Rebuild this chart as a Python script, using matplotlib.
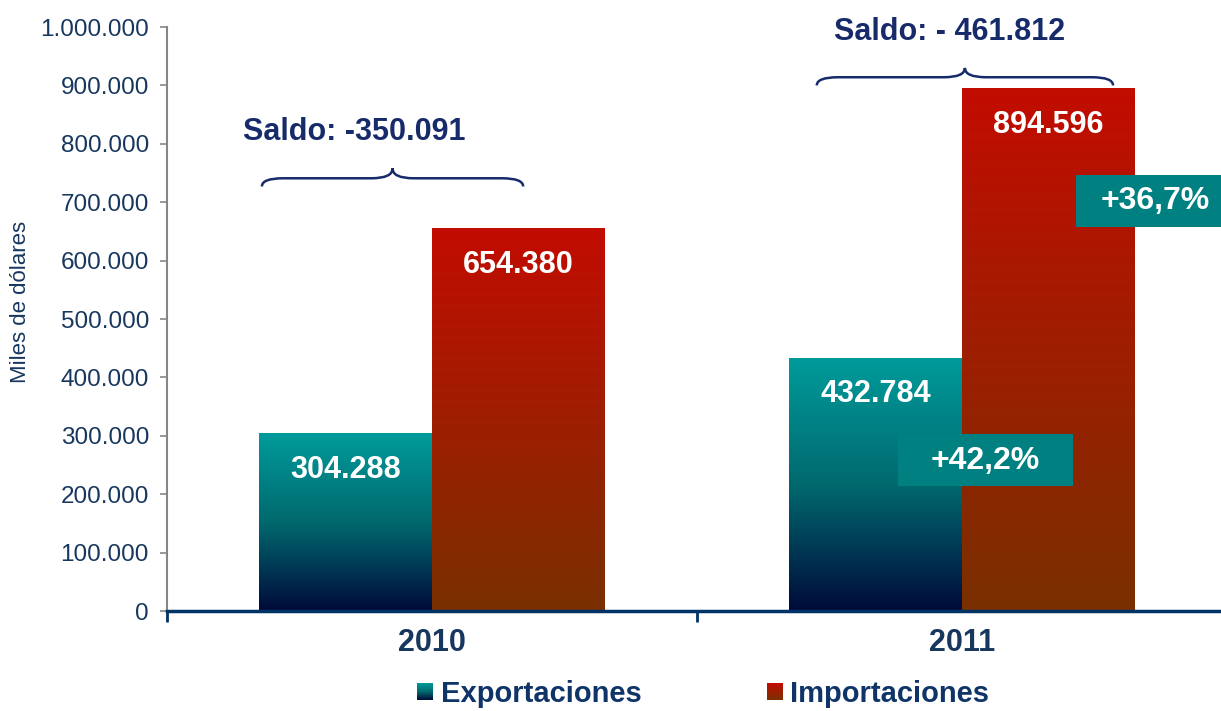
import numpy as np
import matplotlib
matplotlib.use('Agg')
import matplotlib.pyplot as plt
from matplotlib.colors import LinearSegmentedColormap
from matplotlib.patches import Rectangle, Patch, PathPatch
from matplotlib.path import Path
from matplotlib.legend_handler import HandlerBase
from matplotlib.ticker import FuncFormatter, FixedLocator

plt.rcParams['font.family'] = ['Liberation Sans', 'DejaVu Sans']

# data (miles de dolares)
years = ['2010', '2011']
exportaciones = [304288, 432784]
importaciones = [654380, 894596]
saldo_labels = ['Saldo: -350.091', 'Saldo: - 461.812']
growth_exp = '+42,2%'
growth_imp = '+36,7%'

navy = '#17375E'
navy2 = '#172B6B'
teal_box = '#008080'

exp_cmap = LinearSegmentedColormap.from_list(
    'exp', [(0.0, (0/255, 10/255, 58/255)), (0.5, (0/255, 105/255, 110/255)), (1.0, (0/255, 155/255, 155/255))])
imp_cmap = LinearSegmentedColormap.from_list(
    'imp', [(0.0, (122/255, 48/255, 0)), (1.0, (194/255, 12/255, 0))])


def fmt(v):
    return f'{int(v):,}'.replace(',', '.')


fig = plt.figure(figsize=(12.21, 7.11), dpi=100)
ax = fig.add_axes([0.1368, 0.1406, 0.8681, 0.8214])

x = np.arange(len(years)) + 0.5
w = 0.326
b1 = ax.bar(x - w / 2, exportaciones, w, color='none', edgecolor='none')
b2 = ax.bar(x + w / 2, importaciones, w, color='none', edgecolor='none')

grad = np.linspace(0, 1, 256).reshape(-1, 1)
for bars, cm in [(b1, exp_cmap), (b2, imp_cmap)]:
    for p in bars:
        ax.imshow(grad, extent=(p.get_x(), p.get_x() + p.get_width(), 0, p.get_height()),
                  origin='lower', cmap=cm, aspect='auto', zorder=2, interpolation='bilinear')

# value labels
for bars in (b1, b2):
    for p in bars:
        ax.text(p.get_x() + p.get_width() / 2, p.get_height() - 62000, fmt(p.get_height()),
                ha='center', va='center', color='white', fontsize=22, fontweight='bold', zorder=5)

ax.set_xlim(0, 2)
ax.set_ylim(0, 1000000)


# braces + saldo
def brace(x0, x1, yb, ym, yt, r=0.04):
    xm = (x0 + x1) / 2
    verts = [(x0, yb), (x0, ym), (x0 + r, ym), (xm - r, ym), (xm, ym), (xm, yt),
             (xm, ym), (xm + r, ym), (x1 - r, ym), (x1, ym), (x1, yb)]
    codes = [Path.MOVETO, Path.CURVE3, Path.CURVE3, Path.LINETO, Path.CURVE3, Path.CURVE3,
             Path.CURVE3, Path.CURVE3, Path.LINETO, Path.CURVE3, Path.CURVE3]
    ax.add_patch(PathPatch(Path(verts, codes), fill=False, edgecolor=navy2, lw=1.8,
                           zorder=4, clip_on=False))


brace(0.179, 0.672, 727000, 741000, 758000)
brace(1.226, 1.785, 900000, 914000, 930000)
ax.text(0.353, 821000, saldo_labels[0], ha='center', va='center', color=navy2,
        fontsize=22, fontweight='bold', clip_on=False)
ax.text(1.477, 992000, saldo_labels[1], ha='center', va='center', color=navy2,
        fontsize=22, fontweight='bold', clip_on=False)

# growth boxes
ax.add_patch(Rectangle((1.379, 214000), 0.330, 89000, facecolor=teal_box, edgecolor='none', zorder=4))
ax.text(1.543, 257000, growth_exp, ha='center', va='center', color='white',
        fontsize=23, fontweight='bold', zorder=5)
ax.add_patch(Rectangle((1.715, 657500), 0.35, 89000, facecolor=teal_box, edgecolor='none',
                       zorder=4, clip_on=False))
ax.text(1.864, 702000, growth_imp, ha='center', va='center', color='white',
        fontsize=23, fontweight='bold', zorder=5, clip_on=False)

# axes styling
ax.spines['top'].set_visible(False)
ax.spines['right'].set_visible(False)
ax.spines['left'].set_color('#868686')
ax.spines['left'].set_linewidth(1.5)
ax.spines['bottom'].set_color('#003366')
ax.spines['bottom'].set_linewidth(2.5)
ax.spines['bottom'].set_zorder(6)

ax.set_yticks(np.arange(0, 1000001, 100000))
ax.yaxis.set_major_formatter(FuncFormatter(lambda v, p: fmt(v)))
ax.tick_params(axis='y', direction='out', length=5, width=1.2, color='#868686',
               labelsize=17.5, labelcolor=navy, pad=8)

ax.set_xticks(x)
ax.set_xticklabels(years, fontsize=22, fontweight='bold', color=navy)
ax.tick_params(axis='x', which='major', length=0, pad=12)
ax.xaxis.set_minor_locator(FixedLocator([0, 1, 2]))
ax.tick_params(axis='x', which='minor', direction='out', length=8, width=2, color='#003366')

ax.set_ylabel('Miles de dólares', fontsize=16, color=navy)
ax.yaxis.set_label_coords(-0.128, 0.53)


# legend with gradient squares
class GradHandler(HandlerBase):
    def __init__(self, cm):
        super().__init__()
        self.cm = cm

    def create_artists(self, legend, orig_handle, xdescent, ydescent, width, height, fontsize, trans):
        n = 24
        arts = []
        for i in range(n):
            arts.append(Rectangle((-xdescent, -ydescent + height * i / n), width, height / n * 1.05,
                                  facecolor=self.cm(i / (n - 1)), edgecolor='none', transform=trans))
        return arts


h1 = Patch(label='Exportaciones')
h2 = Patch(label='Importaciones')
leg = fig.legend(handles=[h1, h2], loc='center', bbox_to_anchor=(0.576, 0.024), ncol=2,
                 frameon=False, handler_map={h1: GradHandler(exp_cmap), h2: GradHandler(imp_cmap)},
                 handlelength=0.55, handleheight=0.55, handletextpad=0.25, columnspacing=4.3,
                 prop={'size': 21, 'weight': 'bold'})
for t in leg.get_texts():
    t.set_color('#0F3468')

fig.savefig('out.png', dpi=100)
